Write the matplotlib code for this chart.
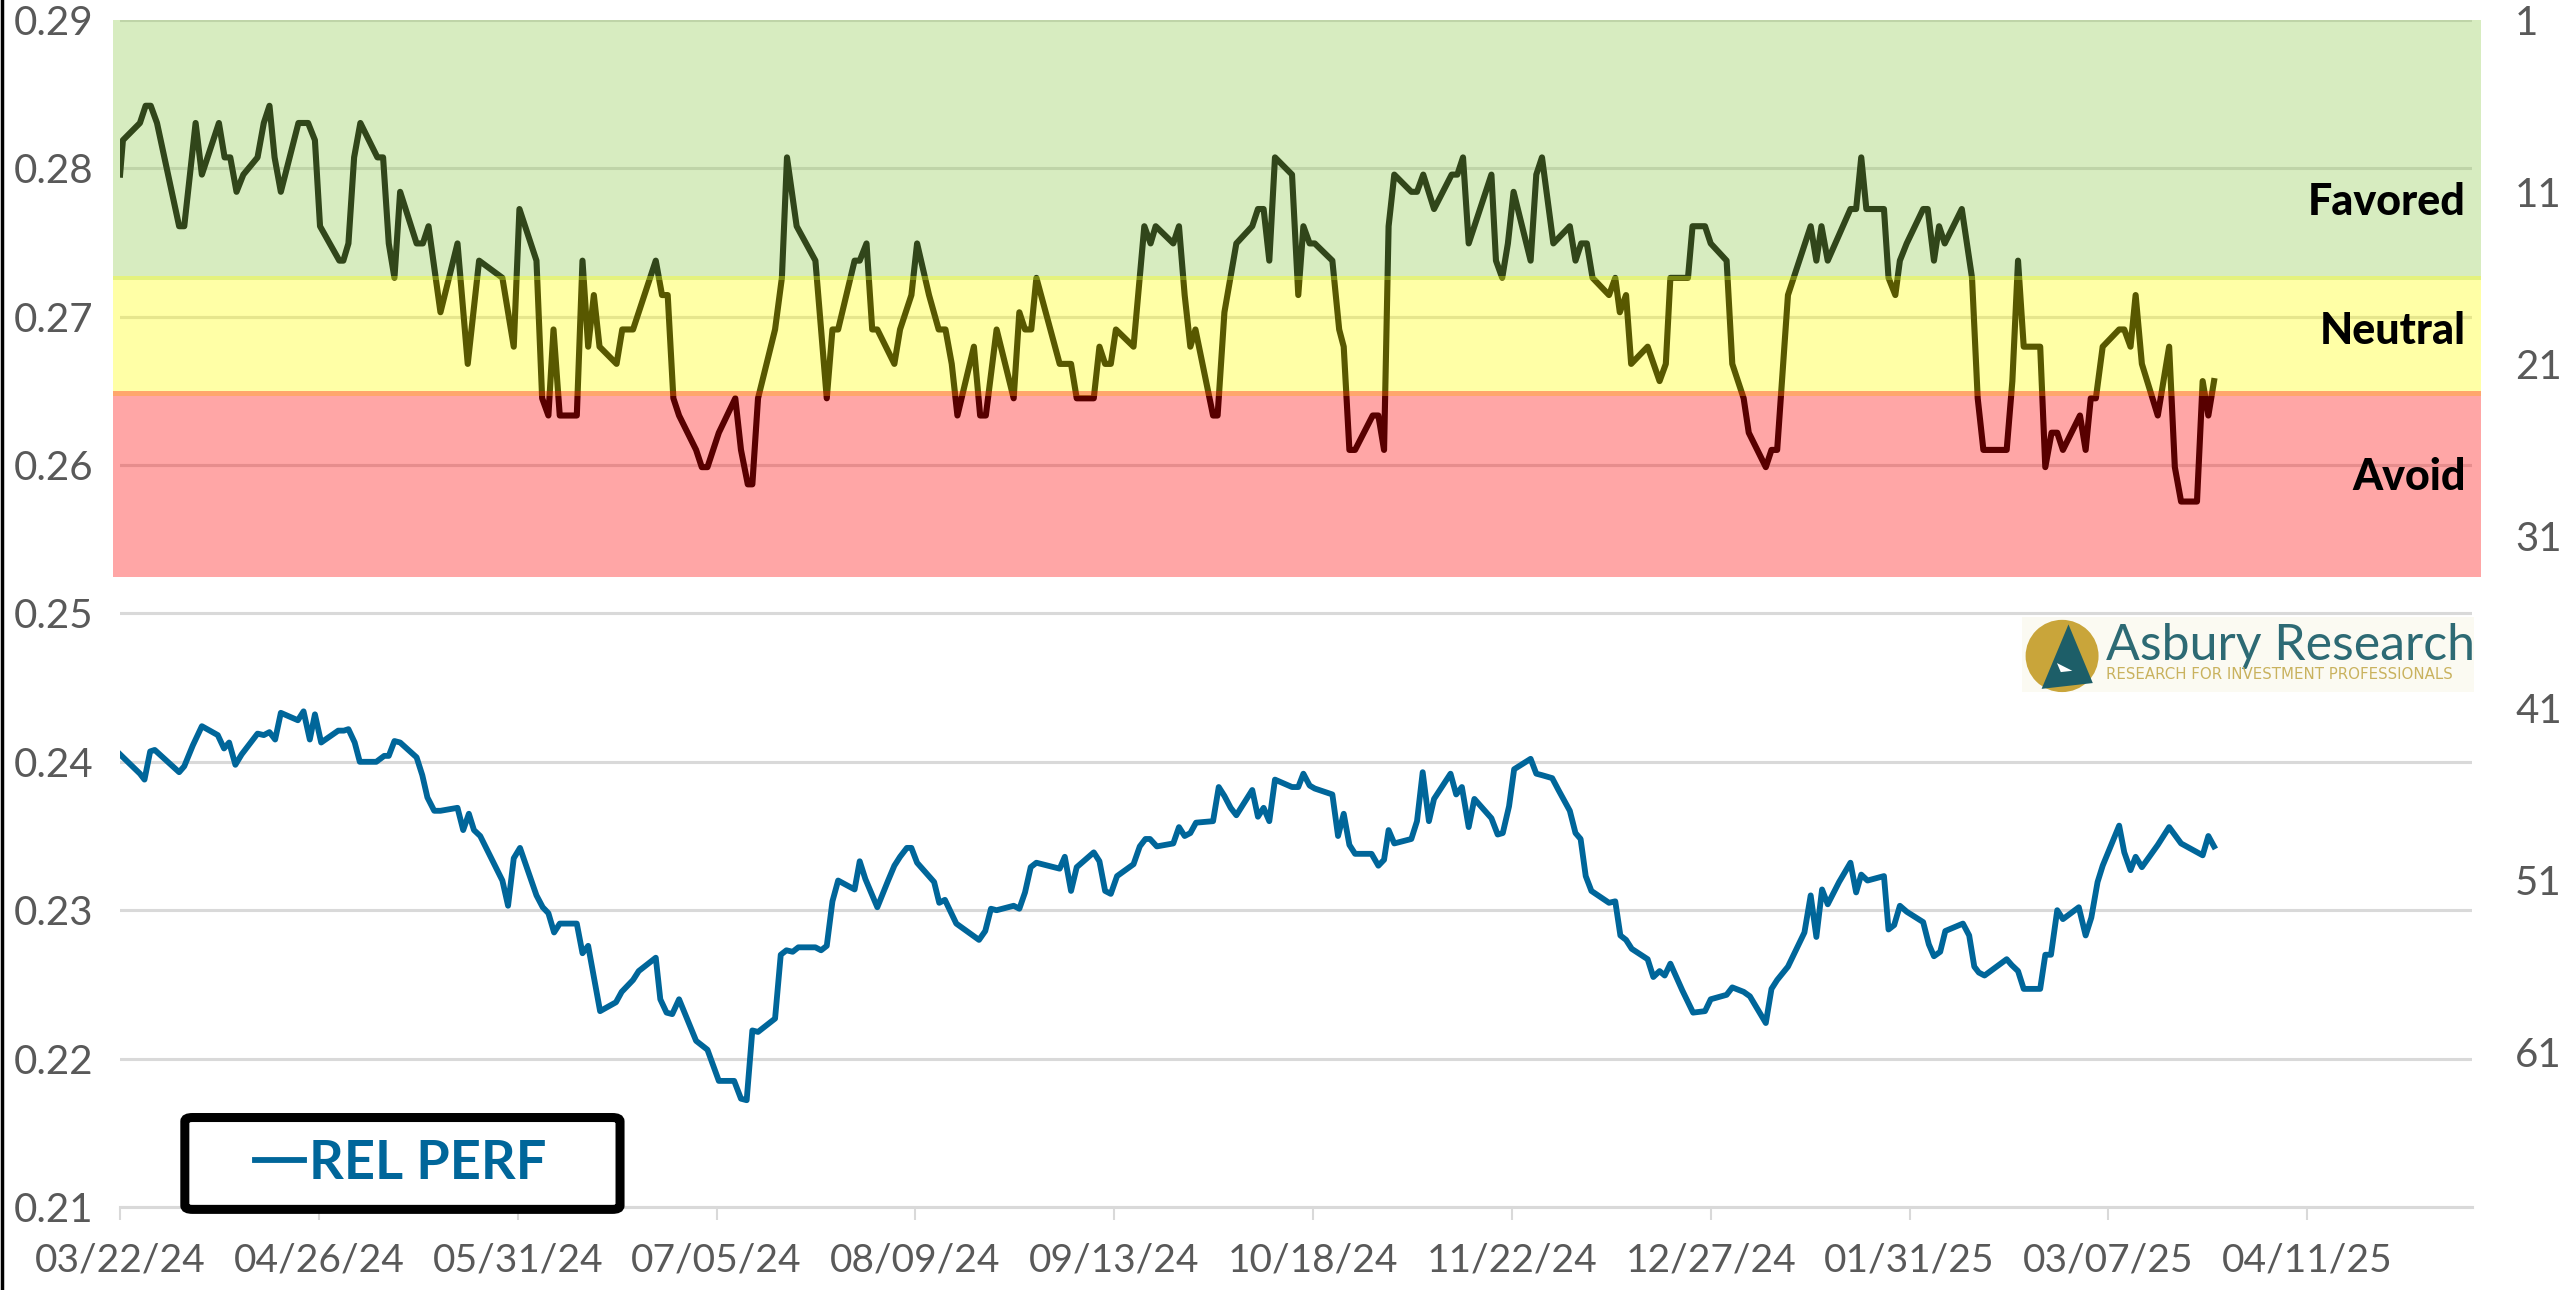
import matplotlib
matplotlib.use("Agg")
import matplotlib.pyplot as plt
import matplotlib.transforms as mtransforms
from matplotlib.patches import Rectangle, FancyBboxPatch, Ellipse, Polygon
from matplotlib.lines import Line2D
import numpy as np
import pandas as pd

plt.rcParams["font.family"] = ["Lato", "DejaVu Sans"]

START = pd.Timestamp("2024-03-22")

# industry-group rank (right axis, 1 = best), day offsets from START
rank_days = [
    0.0, 0.5, 3.5, 4.5, 5.4, 6.5, 10.4, 11.3, 13.3, 14.4, 17.4, 18.4, 19.4, 20.5, 21.7,
    24.2, 25.3, 26.3, 27.2, 28.3, 31.4, 33.1, 34.3, 35.2, 38.6, 39.3, 40.2, 41.2, 42.3,
    45.3, 46.3, 47.3, 48.3, 49.3, 52.2, 53.3, 54.3, 56.4, 59.4, 61.2, 63.2, 67.3, 69.3,
    70.3, 73.3, 74.3, 75.4, 76.3, 77.4, 80.4, 81.4, 82.4, 83.4, 84.4, 87.4, 88.4, 90.3,
    94.3, 95.4, 96.4, 97.4, 98.4, 101.4, 102.4, 103.4, 105.4, 108.3, 109.3, 110.5, 111.3,
    112.3, 115.3, 116.5, 117.4, 119.1, 122.4, 124.4, 125.4, 126.4, 129.3, 130.2, 131.4,
    132.4, 133.3, 136.3, 137.3, 139.3, 140.3, 142.4, 144.1, 145.3, 146.4, 147.4, 150.3,
    151.4, 152.4, 154.3, 157.3, 158.3, 159.3, 160.4, 161.3, 165.4, 167.4, 168.4, 171.4,
    172.4, 173.4, 174.4, 175.3, 178.4, 180.3, 181.4, 182.3, 185.4, 186.4, 187.4, 188.4,
    189.3, 192.4, 193.2, 194.4, 196.5, 199.3, 200.3, 201.3, 202.3, 203.3, 206.3, 207.4,
    208.3, 209.4, 210.3, 213.4, 214.6, 215.4, 216.4, 217.4, 220.5, 221.5, 222.5, 223.3,
    224.3, 227.3, 228.3, 229.4, 231.3, 234.4, 235.4, 236.4, 237.4, 241.4, 242.2, 243.3,
    244.3, 245.3, 248.3, 249.3, 250.3, 252.3, 255.2, 256.2, 257.2, 258.2, 259.2, 262.1,
    263.2, 264.0, 265.1, 266.0, 268.9, 271.0, 272.1, 272.9, 276.0, 276.8, 279.0, 280.0,
    282.8, 283.8, 285.8, 286.7, 289.7, 290.7, 291.7, 293.6, 297.6, 298.6, 299.5, 300.6,
    304.6, 305.6, 306.5, 307.4, 310.5, 311.3, 312.5, 313.3, 314.5, 317.4, 318.2, 319.3,
    320.2, 321.2, 324.2, 326.0, 327.0, 328.0, 332.1, 333.1, 334.1, 335.1, 338.0, 338.9,
    340.0, 341.0, 342.0, 345.0, 346.0, 346.9, 347.8, 349.0, 351.9, 352.8, 353.9, 354.8,
    355.9, 358.7, 360.7, 361.7, 362.8, 365.6, 366.6, 367.6, 368.6,
]
rank_vals = [
    10, 8, 7, 6, 6, 7, 13, 13, 7, 10, 7, 9, 9, 11, 10,
    9, 7, 6, 9, 11, 7, 7, 8, 13, 15, 15, 14, 9, 7,
    9, 9, 14, 16, 11, 14, 14, 13, 18, 14, 21, 15, 16, 20,
    12, 15, 23, 24, 19, 24, 24, 15, 20, 17, 20, 21, 19, 19,
    15, 17, 17, 23, 24, 26, 27, 27, 25, 23, 26, 28, 28,
    23, 19, 16, 9, 13, 15, 23, 19, 19, 15, 15, 14,
    19, 19, 21, 19, 17, 14, 17, 19, 19, 21, 24, 20,
    24, 24, 19, 23, 18, 19, 19, 16, 21, 21, 23, 23,
    20, 21, 21, 19, 20, 13, 14, 13, 14, 13, 17, 20,
    19, 24, 24, 18, 14, 13, 12, 12, 15, 9, 10, 17,
    13, 14, 14, 15, 19, 20, 26, 26, 24, 24, 26, 13,
    10, 11, 11, 10, 12, 10, 10, 9, 14, 10, 15, 16,
    14, 11, 15, 10, 9, 14, 13, 15, 14, 14, 16, 17,
    16, 18, 17, 21, 20, 22, 21, 16, 16, 13, 13, 14,
    15, 21, 23, 25, 27, 26, 26, 17, 13, 15, 13, 15,
    12, 12, 9, 12, 12, 16, 17, 15, 14, 12, 12, 15,
    13, 14, 12, 16, 23, 26, 26, 22, 15, 20, 20, 27,
    25, 25, 26, 24, 26, 23, 23, 20, 19, 19, 20, 17,
    21, 24, 20, 27, 29, 29, 22, 24, 22,
]

# relative performance (left axis), day offsets from START
perf_days = [
    0.0, 3.5, 4.3, 5.3, 6.1, 10.4, 11.3, 12.8, 14.4, 17.2, 18.3, 19.2, 20.3, 21.4, 24.2,
    25.3, 26.3, 27.3, 28.3, 31.3, 32.3, 33.4, 34.3, 35.4, 38.4, 39.4, 40.2, 41.3, 42.2,
    45.1, 46.5, 47.3, 48.3, 49.3, 52.2, 53.2, 54.1, 55.3, 56.4, 59.4, 60.4, 61.4, 62.3,
    63.4, 67.3, 68.3, 69.3, 70.4, 73.3, 74.4, 75.4, 76.4, 77.4, 80.4, 81.4, 82.4, 83.4,
    84.5, 87.3, 88.3, 90.3, 91.3, 94.3, 95.1, 96.2, 97.2, 98.4, 101.4, 102.4, 103.4,
    105.4, 108.1, 109.3, 110.3, 111.3, 112.3, 115.3, 116.3, 117.3, 118.4, 119.4, 122.4,
    123.4, 124.4, 125.4, 126.4, 129.3, 130.2, 131.2, 132.3, 133.3, 135.2, 136.3, 137.3,
    138.5, 139.3, 140.3, 143.3, 144.2, 145.2, 147.2, 151.2, 152.3, 153.3, 154.3, 157.3,
    158.3, 159.3, 160.3, 161.3, 165.4, 166.3, 167.4, 168.4, 171.4, 172.4, 173.4, 174.4,
    175.5, 178.4, 179.5, 180.5, 181.3, 182.5, 185.4, 186.4, 187.4, 188.4, 189.4, 192.4,
    193.4, 194.4, 195.5, 196.5, 199.3, 200.3, 201.3, 202.3, 203.3, 206.3, 207.4, 208.3,
    209.4, 210.3, 213.4, 214.4, 215.4, 216.4, 217.4, 220.3, 221.5, 222.5, 223.3, 224.3,
    227.3, 228.3, 229.3, 230.4, 231.3, 234.2, 235.2, 236.2, 237.4, 238.4, 241.4, 242.5,
    243.4, 244.5, 245.4, 248.3, 249.3, 250.3, 252.1, 253.2, 255.2, 256.2, 257.1, 258.0,
    259.0, 262.1, 263.2, 264.1, 265.1, 266.1, 268.9, 269.9, 271.0, 271.9, 272.9, 275.0,
    276.9, 279.0, 280.0, 282.8, 283.8, 285.8, 286.9, 289.7, 290.7, 291.7, 293.6, 296.5,
    297.6, 298.6, 299.6, 300.6, 302.6, 304.6, 305.6, 306.5, 307.6, 310.5, 311.3, 312.3,
    313.3, 314.5, 317.4, 318.4, 319.3, 320.4, 321.3, 324.4, 325.5, 326.4, 327.2, 328.2,
    332.1, 333.0, 334.1, 335.1, 338.0, 338.9, 339.9, 341.0, 342.0, 344.8, 346.0, 347.0,
    348.1, 349.0, 351.9, 352.8, 353.9, 354.8, 355.9, 358.7, 360.7, 362.8, 366.6, 367.6,
    368.6,
]
perf_vals = [
    0.2405, 0.2392, 0.2388, 0.2407, 0.2408, 0.2393, 0.2397, 0.2411, 0.2424, 0.2418, 0.2409,
    0.2413, 0.2398, 0.2405, 0.2419, 0.2418, 0.2420, 0.2415, 0.2433, 0.2428, 0.2434, 0.2415,
    0.2432, 0.2413, 0.2421, 0.2421, 0.2422, 0.2413, 0.2400, 0.2400, 0.2404, 0.2404, 0.2414,
    0.2413, 0.2403, 0.2391, 0.2376, 0.2367, 0.2367, 0.2369, 0.2354, 0.2365, 0.2354, 0.2350,
    0.2320, 0.2303, 0.2335, 0.2342, 0.2310, 0.2302, 0.2298, 0.2285, 0.2291, 0.2291, 0.2271,
    0.2276, 0.2255, 0.2232, 0.2238, 0.2245, 0.2253, 0.2259, 0.2268, 0.2240, 0.2231, 0.2230,
    0.2240, 0.2212, 0.2209, 0.2206, 0.2185, 0.2185, 0.2173, 0.2172, 0.2219, 0.2218, 0.2227,
    0.2270, 0.2273, 0.2272, 0.2275, 0.2275, 0.2273, 0.2276, 0.2306, 0.2320, 0.2314, 0.2333,
    0.2321, 0.2311, 0.2302, 0.2320, 0.2330, 0.2336, 0.2342, 0.2342, 0.2332, 0.2319, 0.2305,
    0.2307, 0.2291, 0.2280, 0.2286, 0.2301, 0.2300, 0.2303, 0.2301, 0.2312, 0.2329, 0.2332,
    0.2328, 0.2336, 0.2313, 0.2329, 0.2339, 0.2333, 0.2313, 0.2311, 0.2323, 0.2331, 0.2343,
    0.2348, 0.2348, 0.2343, 0.2345, 0.2356, 0.2350, 0.2352, 0.2359, 0.2360, 0.2383, 0.2377,
    0.2369, 0.2364, 0.2381, 0.2363, 0.2369, 0.2360, 0.2388, 0.2383, 0.2383, 0.2392, 0.2384,
    0.2382, 0.2378, 0.2350, 0.2365, 0.2344, 0.2338, 0.2338, 0.2330, 0.2334, 0.2354, 0.2345,
    0.2348, 0.2360, 0.2393, 0.2360, 0.2375, 0.2392, 0.2378, 0.2383, 0.2356, 0.2375, 0.2362,
    0.2351, 0.2352, 0.2370, 0.2395, 0.2402, 0.2392, 0.2391, 0.2389, 0.2381, 0.2367, 0.2352,
    0.2348, 0.2323, 0.2313, 0.2305, 0.2306, 0.2283, 0.2280, 0.2274, 0.2267, 0.2255, 0.2259,
    0.2256, 0.2264, 0.2246, 0.2231, 0.2232, 0.2240, 0.2243, 0.2248, 0.2245, 0.2242, 0.2224,
    0.2247, 0.2253, 0.2262, 0.2285, 0.2310, 0.2282, 0.2314, 0.2304, 0.2319, 0.2332, 0.2312,
    0.2324, 0.2320, 0.2323, 0.2287, 0.2290, 0.2303, 0.2299, 0.2292, 0.2277, 0.2269, 0.2272,
    0.2286, 0.2291, 0.2283, 0.2262, 0.2258, 0.2256, 0.2267, 0.2263, 0.2259, 0.2247, 0.2247,
    0.2270, 0.2270, 0.2300, 0.2294, 0.2302, 0.2283, 0.2295, 0.2319, 0.2330, 0.2357, 0.2339,
    0.2327, 0.2336, 0.2329, 0.2344, 0.2356, 0.2345, 0.2337, 0.2350, 0.2343,
]

zone_names = ["Favored", "Neutral", "Avoid"]
zone_bounds = [(1, 16.1), (15.9, 22.85), (22.6, 33.4)]
zone_colors = ["#8FCB4D", "#FFFF00", "#FF0000"]
zone_label_rank = [11.6, 19.1, 27.6]

x_ticks = pd.date_range("2024-03-22", "2025-04-11", freq="35D")
left_ticks = np.round(np.arange(0.21, 0.2951, 0.01), 2)
right_ticks = list(range(1, 62, 10))

BLUE = "#00669A"
GRAY = "#595959"
GRID = "#D9D9D9"

rank_dates = START + pd.to_timedelta(rank_days, unit="D")
perf_dates = START + pd.to_timedelta(perf_days, unit="D")

fig = plt.figure(figsize=(25.6, 12.9), dpi=100)
ax = fig.add_axes([0.0469, 0.0643, 0.9187, 0.9204])

ax.set_xlim(START, START + pd.Timedelta(days=414))
ax.set_ylim(0.21, 0.29)
ax.set_yticks(left_ticks)
ax.set_yticklabels([f"{v:.2f}" for v in left_ticks])
ax.grid(axis="y", color=GRID, lw=2.2, zorder=0)
ax.set_axisbelow(True)
rel_line, = ax.plot(perf_dates, perf_vals, color=BLUE, lw=4.2,
                    solid_joinstyle="round", label="REL PERF", zorder=2)

ax.set_xticks(x_ticks)
ax.set_xticklabels([d.strftime("%m/%d/%y") for d in x_ticks])
ax.tick_params(axis="x", length=9.5, width=1.5, color=GRID, pad=16,
               labelsize=28, labelcolor=GRAY)
ax.tick_params(axis="y", length=0, pad=19, labelsize=29, labelcolor=GRAY)
for side in ["left", "right", "top"]:
    ax.spines[side].set_visible(False)
ax.spines["bottom"].set_color(GRID)
ax.spines["bottom"].set_linewidth(2.2)

ax2 = ax.twinx()
ax2.set_ylim(70, 1)
ax2.set_yticks(right_ticks)
ax2.tick_params(axis="y", length=0, pad=31, labelsize=29, labelcolor=GRAY)
for side in ax2.spines:
    ax2.spines[side].set_visible(False)
ax2.plot(rank_dates, rank_vals, color="black", lw=4.4, solid_joinstyle="round", zorder=2)

# translucent zones laid over the rank line
for (lo, hi), col in zip(zone_bounds, zone_colors):
    ax2.axhspan(lo, hi, xmin=-0.003, xmax=1.004, color=col, alpha=0.35, lw=0,
                zorder=3, clip_on=False)

trans = mtransforms.blended_transform_factory(ax2.transAxes, ax2.transData)
for name, r in zip(zone_names, zone_label_rank):
    ax2.text(0.9975, r, name, transform=trans, ha="right", va="center",
             fontsize=31, fontweight="black", color="black", zorder=5)

# legend box
box = FancyBboxPatch((0.0722, 0.0625), 0.1700, 0.0712, transform=fig.transFigure,
                     boxstyle="round,pad=0,rounding_size=0.003", facecolor="white",
                     edgecolor="black", lw=6.5, zorder=3)
fig.add_artist(box)
leg = fig.legend(handles=[rel_line], loc="center", bbox_to_anchor=(0.1565, 0.0984),
                 frameon=False, handlelength=0.9, handletextpad=0.1,
                 prop={"size": 39, "weight": "bold"}, labelcolor="linecolor")
leg.set_zorder(6)

# logo
fig.add_artist(Rectangle((0.790, 0.4636), 0.1766, 0.0581, transform=fig.transFigure,
                         facecolor="#FBFAF2", edgecolor="none", zorder=3))
fig.add_artist(Ellipse((0.8055, 0.4915), 0.0285, 0.0560, transform=fig.transFigure,
                       facecolor="#C9A53A", edgecolor="none", zorder=4))
fig.add_artist(Polygon([(0.8080, 0.5160), (0.7975, 0.4660), (0.8175, 0.4705)],
                       closed=True, transform=fig.transFigure, facecolor="#1D5E68",
                       edgecolor="none", zorder=5))
fig.add_artist(Polygon([(0.8035, 0.4860), (0.8095, 0.4800), (0.8050, 0.4790)],
                       closed=True, transform=fig.transFigure, facecolor="white",
                       edgecolor="none", zorder=6))
fig.text(0.8225, 0.4995, "Asbury Research", fontsize=36, color="#2D6A74",
         ha="left", va="center", zorder=6)
fig.text(0.8228, 0.4770, "RESEARCH FOR INVESTMENT PROFESSIONALS", fontsize=10.8,
         color="#C9B25E", family="DejaVu Sans", ha="left", va="center", zorder=6)

fig.add_artist(Line2D([0.0007, 0.0007], [0, 1], transform=fig.transFigure,
                      color="black", lw=2.5))

fig.savefig("out.png", dpi=100)
